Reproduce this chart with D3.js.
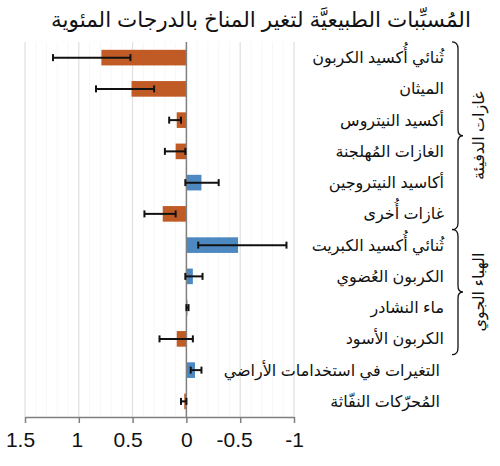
<!DOCTYPE html>
<html><head><meta charset="utf-8">
<script src="https://cdn.jsdelivr.net/npm/d3@7"></script>
<style>body{margin:0;background:#fff}svg{display:block}text{font-family:"Liberation Sans","DejaVu Sans",Arial,sans-serif}</style>
</head><body>
<svg id="c" width="500" height="466"></svg>
<script>
const categories = ["ثُنائي أُكسيد الكربون","الميثان","أكسيد النيتروس","الغازات المُهلجنة","أكاسيد النيتروجين","غازات أُخرى","ثُنائي أُكسيد الكبريت","الكربون العُضوي","ماء النشادر","الكربون الأسود","التغيرات في استخدامات الأراضي","المُحرّكات النفّاثة"];
const values = [0.79, 0.51, 0.09, 0.10, -0.14, 0.22, -0.48, -0.06, -0.01, 0.09, -0.08, 0.02];
const errLow = [0.52, 0.30, 0.05, 0.01, 0.01, 0.10, -0.11, 0.01, 0.00, -0.06, -0.04, 0.00];
const errHigh = [1.24, 0.84, 0.16, 0.20, -0.30, 0.39, -0.93, -0.15, -0.02, 0.25, -0.14, 0.05];
const tickValues = [1.5, 1, 0.5, 0, -0.5, -1];
const groups = [{name:"غازات الدفيئة", from:0, to:5},{name:"الهباء الجوي", from:6, to:9}];
const title = "المُسبِّبات الطبيعيَّة لتغير المناخ بالدرجات المئوية";

const svg = d3.select("#c");
const x = d3.scaleLinear().domain([1.5, -1]).range([25, 294]);
const y = d3.scaleBand().domain(categories).range([42, 417]).paddingInner(0.5).paddingOuter(0.25);

// minor gridlines
svg.append("g").selectAll("line").data(d3.range(-10, 16).map(d => d/10))
  .join("line").attr("x1", d => x(d)).attr("x2", d => x(d)).attr("y1", 42).attr("y2", 417)
  .attr("stroke", "#f7f7f7").attr("stroke-width", 1);
// major gridlines
svg.append("g").selectAll("line").data(tickValues.filter(d => d !== 0))
  .join("line").attr("x1", d => x(d)).attr("x2", d => x(d)).attr("y1", 42).attr("y2", 417)
  .attr("stroke", "#dcdcdc").attr("stroke-width", 1);

// bars
svg.append("g").selectAll("rect").data(categories)
  .join("rect")
  .attr("x", (d,i) => Math.min(x(values[i]), x(0)))
  .attr("width", (d,i) => Math.abs(x(values[i]) - x(0)))
  .attr("y", d => y(d)).attr("height", y.bandwidth())
  .attr("fill", (d,i) => values[i] > 0 ? "#c15b26" : "#4e88c1");

// zero line
svg.append("line").attr("x1", x(0)).attr("x2", x(0)).attr("y1", 42).attr("y2", 417)
  .attr("stroke", "#7f7f7f").attr("stroke-width", 1.5);

// error bars
const eb = svg.append("g").attr("stroke", "#111").attr("stroke-width", 2);
categories.forEach((c, i) => {
  const cy = y(c) + y.bandwidth()/2;
  eb.append("line").attr("x1", x(errLow[i])).attr("x2", x(errHigh[i])).attr("y1", cy).attr("y2", cy);
  [errLow[i], errHigh[i]].forEach(v => eb.append("line").attr("x1", x(v)).attr("x2", x(v)).attr("y1", cy-3.5).attr("y2", cy+3.5));
});

// x axis
const tickShift = {"1.5": -5, "1": -2, "0.5": -5, "0": 0, "-0.5": -6, "-1": 0};
const ax = svg.append("g").attr("transform", "translate(0,417)")
  .call(d3.axisBottom(x).tickValues(tickValues).tickSize(6).tickSizeOuter(0).tickFormat(d => String(d)));
ax.select(".domain").attr("stroke", "#7f7f7f").attr("stroke-width", 1.5);
ax.selectAll(".tick line").attr("stroke", "#7f7f7f").attr("stroke-width", 1.5);
ax.selectAll(".tick text").attr("font-size", 21).attr("fill", "#111").attr("dy", "1.0em")
  .attr("dx", d => tickShift[String(d)] || 0)
  .attr("font-family", "'Liberation Sans', Arial, sans-serif");

// category labels
svg.append("g").selectAll("text").data(categories)
  .join("text")
  .attr("x", (d,i) => i >= 10 ? 440 : 444)
  .attr("y", d => y(d) + y.bandwidth()/2)
  .attr("dy", "0.35em").attr("text-anchor", "start").attr("direction", "rtl")
  .attr("font-size", 16).attr("fill", "#111").text(d => d);

// brackets and group labels
groups.forEach(g => {
  const y0 = y(categories[g.from]) - 8, y1 = y(categories[g.to]) + y.bandwidth() + 8;
  const ym = (y0 + y1) / 2, xa = 452, xb = 458, xt = 463;
  const p = d3.path();
  p.moveTo(xa, y0);
  p.quadraticCurveTo(xb, y0, xb, y0 + 7);
  p.lineTo(xb, ym - 6);
  p.quadraticCurveTo(xb, ym, xt, ym);
  p.quadraticCurveTo(xb, ym, xb, ym + 6);
  p.lineTo(xb, y1 - 7);
  p.quadraticCurveTo(xb, y1, xa, y1);
  svg.append("path").attr("d", p.toString()).attr("fill", "none").attr("stroke", "#111").attr("stroke-width", 1.3);
  svg.append("text").attr("transform", `translate(478,${ym}) rotate(-90)`)
    .attr("text-anchor", "middle").attr("dy", "0.35em").attr("direction", "rtl")
    .attr("font-size", 16).attr("fill", "#111").text(g.name);
});

// title
svg.append("text").attr("x", 261).attr("y", 27).attr("text-anchor", "middle").attr("direction", "rtl")
  .attr("font-size", 21.5).attr("fill", "#111").text(title);
</script>
</body></html>
